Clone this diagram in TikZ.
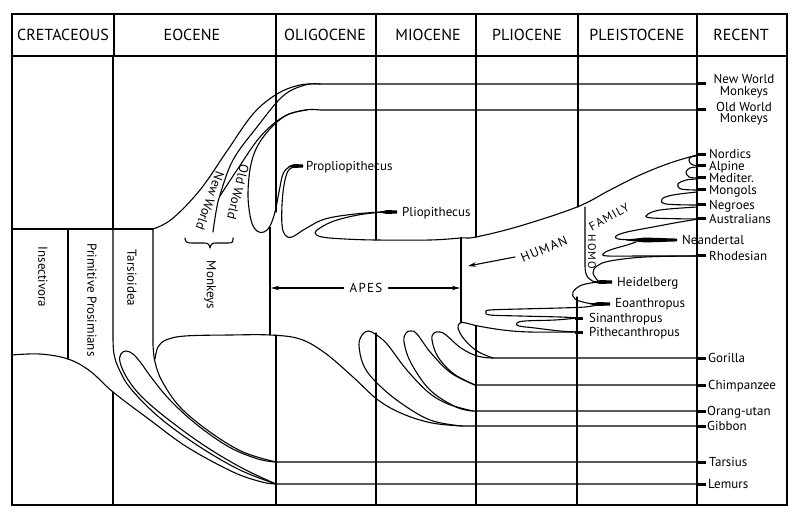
\documentclass[tikz,border=0pt]{standalone}
\usepackage{fontspec}
\setmainfont{PT Sans}
\newfontfamily\capsfont[LetterSpace=10]{PT Sans}
\usetikzlibrary{arrows.meta}
\begin{document}
\begin{tikzpicture}[x=1pt,y=-1pt,
  ln/.style={line width=1.1pt,line join=round,line cap=round},
  frm/.style={line width=1.4pt},
  wall/.style={line width=2pt},
  tk/.style={line width=3pt},
  hdr/.style={font=\fontsize{16}{16}\selectfont,inner sep=0pt,anchor=center},
  lbl/.style={font=\fontsize{13}{13}\selectfont,inner sep=0pt,anchor=base west,yshift=-4.5pt},
  rlbl/.style={font=\fontsize{13}{13}\selectfont,inner sep=0pt,anchor=center,rotate=-90},
  capl/.style={font=\capsfont\fontsize{13}{13}\selectfont,inner sep=0pt,anchor=center},
  arr/.style={ln,-{Stealth[length=8pt,width=4.5pt]}},
  sm/.style={smooth,tension=0.6},
]
\useasboundingbox (0,0) rectangle (800,521);
\fill[white] (0,0) rectangle (800,521);
% frame and header
\draw[frm] (12,14) rectangle (787,505);
\draw[frm] (12,56) -- (787,56);
\foreach \xx in {114,276,376,476,578}{\draw[frm] (\xx,14) -- (\xx,56);}
\draw[frm] (697,14) -- (697,505);
\node[hdr] (hCre) at (63,35) {CRETACEOUS};
\node[hdr] (hEoc) at (192,35) {EOCENE};
\node[hdr] (hOli) at (325,35) {OLIGOCENE};
\node[hdr] (hMio) at (428,35) {MIOCENE};
\node[hdr] (hPli) at (527,35) {PLIOCENE};
\node[hdr] (hPle) at (637,35) {PLEISTOCENE};
\node[hdr] (hRec) at (741,35) {RECENT};
% column lines inside body
\draw[ln] (113,56) -- (113,229);
\draw[ln] (276,56) -- (276,212);
\draw[ln] (376,56) -- (376,240);
\draw[ln] (476,56) -- (476,237);
\draw[ln] (578,56) -- (578,207);
\draw[ln] (113,392) -- (113,505);
\draw[ln] (276,335) -- (276,505);
\draw[ln] (376,333) -- (376,505);
\draw[ln] (476,326) -- (476,505);
\draw[ln] (577,297) -- (577,505);
\draw[wall] (270,227) -- (270,335);
\draw[wall] (461,237) -- (461,323);
% left boxes
\draw[ln] (12,229) -- (153,229);
\draw[ln] (68,229) -- (68,359);
% A : insectivora hump to lemurs
\draw[ln] plot[sm] coordinates {(12,355) (40,354) (68,359) (90,371) (113,392) (150,420) (187,447) (233,472) (262,482) (276,484)} -- (697,484);
% B
\draw[ln] (113,229) -- plot[sm] coordinates {(113,338) (114,354) (119,369) (131,389) (160,418) (200,447) (240,470) (276,484)};
% C loop
\draw[ln] plot[sm] coordinates {(276,484) (242,468) (205,446) (169,420) (142,397) (127,378) (120,362) (121,354) (126,351) (133,354) (141,363) (151,377) (169,399) (196,424) (229,447) (258,459) (276,462)};
% D
\draw[ln] (153,229) -- plot[sm] coordinates {(153,345) (155,362) (162,381) (180,407) (210,432) (243,452) (276,462)} -- (697,462);
% E monkeys/apes lower boundary to gibbon
\draw[ln] plot[sm] coordinates {(155,359) (158,347) (166,340) (185,336) (230,335) (270,335) (300,339) (325,353) (353,377) (378,400) (403,414) (432,423) (462,426)} -- (697,426);
% ape loops
\draw[ln] plot[sm] coordinates {(462,426) (430,420) (398,401) (374,380) (363,364) (359,345) (362,335) (368,331) (375,334) (387,344) (406,369) (428,392) (448,404) (473,411)} -- (697,411);
\draw[ln] plot[sm] coordinates {(473,411) (456,407) (430,390) (411,363) (404,342) (406,333) (411,331) (417,334) (431,353) (451,373) (475,385)} -- (697,385);
\draw[ln] plot[sm] coordinates {(475,385) (454,374) (438,357) (432,340) (434,333) (440,332) (446,335) (461,348) (477,356) (492,358)} -- (697,358);
\draw[ln] plot[sm] coordinates {(493,358) (477,351) (464,339) (458,328) (460,323) (466,323) (478,326) (503,330) (530,332) (577,332)};
% monkeys curves
\draw[ln] plot[sm] coordinates {(153,229) (172,219) (200,190) (227,151) (253,114) (277,94) (300,85) (320,84)} -- (697,84);
\draw[ln] plot[sm] coordinates {(213,232) (216,212) (220,195) (233,160) (257,127) (283,96) (305,85) (320,84)};
\draw[ln] plot[sm] coordinates {(220,196) (237,170) (260,137) (283,117) (305,110) (320,110)} -- (697,110);
% old world loop + propliopithecus left arm
\draw[ln] plot[sm] coordinates {(307,110) (285,116) (264,136) (252,160) (248,193) (251,220) (257,231) (264,232) (270,226) (275,212) (279,192) (283,174) (289,167) (294,166)};
% propliopithecus right arm
\draw[ln] plot[sm] coordinates {(294,167) (288,171) (284,185) (282,205) (282,225) (285,235) (292,237) (305,229) (325,219) (355,214) (382,212)};
% pliopithecus loop and human band top
\draw[ln] plot[sm] coordinates {(382,212) (358,215) (334,221) (320,228) (315,233) (322,237) (345,239) (376,240) (430,240) (461,238) (476,237) (520,226) (577,207) (610,190) (640,175) (670,163) (697,155)};
% brace
\draw[ln] (185,238) .. controls (185,242) and (187,243) .. (192,243) -- (204,243) .. controls (208,243) and (209,244) .. (210,248) .. controls (211,244) and (212,243) .. (216,243) -- (228,243) .. controls (233,243) and (233,242) .. (233,238);
% homo family
\draw[ln] (585,207) -- (585,266) .. controls (585,276) and (589,282) .. (598,282);
\draw[ln] plot[sm] coordinates {(697,256) (645,257) (610,261) (597,266) (593,273) (598,281)};
\draw[ln] plot[sm] coordinates {(598,282) (582,285) (573,292) (575,299) (587,303) (598,304)};
\draw[ln] plot[sm] coordinates {(597,305) (585,307) (560,308) (520,309) (490,310) (486,312) (490,315) (520,316) (560,317) (578,318)};
\draw[ln] plot[sm] coordinates {(578,318) (555,320) (525,321) (517,323) (519,326) (535,328) (560,331) (578,332)};
% races
\draw[ln] plot[sm] coordinates {(697,156) (691,157) (689,160) (691,164) (697,166)};
\draw[ln] plot[sm] coordinates {(697,167) (690,168) (686,172) (689,177) (697,178)};
\draw[ln] plot[sm] coordinates {(697,179) (686,180) (678,184) (681,189) (697,190)};
\draw[ln] plot[sm] coordinates {(697,192) (673,195) (662,199) (666,204) (697,205)};
\draw[ln] plot[sm] coordinates {(697,207) (660,210) (647,215) (652,218) (697,219)};
\draw[ln] plot[sm] coordinates {(699,219) (680,222) (653,227) (627,232) (616,236) (618,239) (633,240)};
\draw[ln] plot[sm] coordinates {(636,242) (627,245) (610,250) (603,254) (608,256) (643,256) (697,256)};
% thick marks
\fill (626,239.6) -- (645,237.5) -- (677,238.6) -- (677,241.4) -- (645,242.5) -- (626,240.4) -- cycle;
\fill (288,166.3) -- (294,164) -- (303,164.5) -- (303,167.5) -- (294,168) -- cycle;
\fill (378,212.3) -- (387,210) -- (397,210.5) -- (397,213.5) -- (387,214) -- cycle;
\fill (594,282.3) -- (600,280) -- (612,280.5) -- (612,283.5) -- (600,284) -- cycle;
\fill (590,304.3) -- (598,302) -- (610,302.5) -- (610,305.5) -- (598,306) -- cycle;
\foreach \yy in {318,332}{\draw[tk] (575,\yy) -- (583,\yy);}
\foreach \yy in {84,110,155,166,178,190,205,219,256,358,385,411,426,462,484}{\draw[tk] (697,\yy) -- (706,\yy);}
% rotated labels
\node[rlbl] (tIns) at (43,277) {Insectivora};
\node[rlbl] (tPro) at (92,300) {Primitive Prosimians};
\node[rlbl] (tTar) at (132,278) {Tarsioidea};
\node[rlbl] (tMon) at (210,285) {Monkeys};
\node[rlbl,rotate=-20] (tNW) at (210,201) {New World};
\node[rlbl,rotate=-14] (tOW) at (238,192) {Old World};
% apes / human arrows
\node[capl] (tApes) at (366,288) {APES};
\coordinate (apL) at (271,288);
\coordinate (apR) at (460,288);
\draw[arr] ([xshift=-6pt]tApes.west) -- (apL);
\draw[arr] ([xshift=6pt]tApes.east) -- (apR);
\node[capl,rotate=23] (tHum) at (544,249) {HUMAN};
\coordinate (huA) at (515,257);
\coordinate (huB) at (468,266);
\draw[arr] (huA) -- (huB);
\node[capl,rotate=30,font=\capsfont\fontsize{12}{12}\selectfont] (tFam) at (609,217) {FAMILY};
\node[capl,rotate=-90,font=\capsfont\fontsize{11}{11}\selectfont] (tHomo) at (592,252) {HOMO};
% species labels
\node[lbl] (lProp) at (306,166) {Propliopithecus};
\node[lbl] (lPlio) at (402,212) {Pliopithecus};
\node[lbl,anchor=base] (lNW1) at (744,79) {New World};
\node[lbl,anchor=base] (lNW2) at (744,91) {Monkeys};
\node[lbl,anchor=base] (lOW1) at (744,107) {Old World};
\node[lbl,anchor=base] (lOW2) at (744,118) {Monkeys};
\node[lbl] (lNor) at (709,154) {Nordics};
\node[lbl] (lAlp) at (709,166) {Alpine};
\node[lbl] (lMed) at (709,178) {Mediter.};
\node[lbl] (lMon) at (709,190) {Mongols};
\node[lbl] (lNeg) at (709,205) {Negroes};
\node[lbl] (lAus) at (709,219) {Australians};
\node[lbl] (lNea) at (682,240) {Neandertal};
\node[lbl] (lRho) at (709,256) {Rhodesian};
\node[lbl] (lHei) at (617,282) {Heidelberg};
\node[lbl] (lEoa) at (615,303) {Eoanthropus};
\node[lbl] (lSin) at (589,318) {Sinanthropus};
\node[lbl] (lPit) at (589,332) {Pithecanthropus};
\node[lbl] (lGor) at (708,358) {Gorilla};
\node[lbl] (lChi) at (708,385) {Chimpanzee};
\node[lbl] (lOra) at (707,411) {Orang-utan};
\node[lbl] (lGib) at (707,426) {Gibbon};
\node[lbl] (lTar) at (709,462) {Tarsius};
\node[lbl] (lLem) at (708,484) {Lemurs};
\end{tikzpicture}
\end{document}
